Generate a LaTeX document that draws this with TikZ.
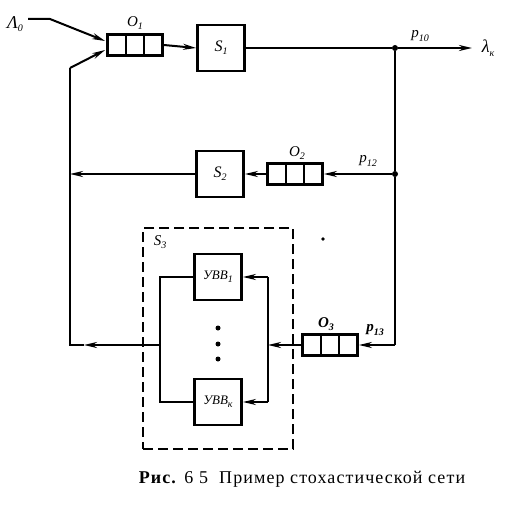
\documentclass[tikz,border=0pt]{standalone}
\usepackage{fontspec}
\setmainfont{Liberation Serif}
\usetikzlibrary{arrows.meta,calc}
\newcommand{\lsb}[1]{\raisebox{-0.45ex}{\fontsize{10}{10}\selectfont #1}}
\begin{document}
\begin{tikzpicture}[x=1pt,y=-1pt,
  ln/.style={line width=2pt},
  arr/.style={ln,-{Stealth[length=13pt,width=6pt]}},
  blk/.style={draw,line width=2.8pt,minimum width=47pt,minimum height=46pt,inner sep=0pt,font=\itshape\fontsize{16}{16}\selectfont},
  ublk/.style={blk,font=\itshape\fontsize{13}{13}\selectfont},
  queue/.style={draw,line width=2.8pt,minimum width=55pt,minimum height=21pt,inner sep=0pt,
    path picture={\draw[line width=2.4pt]
      ($(path picture bounding box.south west)!1/3!(path picture bounding box.south east)$) --
      ($(path picture bounding box.north west)!1/3!(path picture bounding box.north east)$)
      ($(path picture bounding box.south west)!2/3!(path picture bounding box.south east)$) --
      ($(path picture bounding box.north west)!2/3!(path picture bounding box.north east)$);}},
  lbl/.style={font=\itshape\fontsize{15}{15}\selectfont,inner sep=0pt},
  big/.style={font=\itshape\fontsize{18}{18}\selectfont,inner sep=0pt},
  jdot/.style={circle,fill,inner sep=0pt,minimum size=6pt}]
\useasboundingbox (0,0) rectangle (505,511);
% top row
\node[big] (L0) at (15,24) {Λ\lsb{0}};
\coordinate (a0s) at (28,19);
\coordinate (a0b) at (50,19);
\node[queue] (q1) at (135,45) {};
\node[lbl] (o1) at (135,23) {O\lsb{1}};
\node[blk] (s1) at (221,48) {S\lsb{1}};
\node[jdot] (j1) at (395,48) {};
\coordinate (kout) at (472,48);
\node[big] (lk) at (488,48) {λ\lsb{к}};
\node[lbl] (p10) at (420,36) {p\lsb{10}};
\draw[arr] (a0s) -- (a0b) -- ($(q1.west)+(-1,-4)$);
\draw[arr] (q1.east) -- (s1.west);
\draw[ln] (s1.east) -- (j1);
\draw[arr] (j1) -- (kout);
% second row
\node[jdot] (j2) at (395,174) {};
\node[queue] (q2) at (295,174) {};
\node[lbl] (o2) at (297,153) {O\lsb{2}};
\node[lbl] (p12) at (368,161) {p\lsb{12}};
\node[blk] (s2) at (220,174) {S\lsb{2}};
\coordinate (lv2) at (70,174);
\draw[arr] (j2) -- (q2.east);
\draw[arr] (q2.west) -- (s2.east);
\draw[arr] (s2.west) -- (lv2);
% right vertical and third queue
\node[queue] (q3) at (330,345) {};
\node[lbl] (o3) at (326,324) {\bfseries O\lsb{3}};
\node[lbl] (p13) at (375,330) {\bfseries p\lsb{13}};
\coordinate (rc) at (395,345);
\draw[ln] (j1) -- (j2) -- (rc);
\draw[arr] (rc) -- (q3.east);
% S3 group
\node[draw,line width=1.6pt,dash pattern=on 10pt off 5pt,minimum width=150pt,minimum height=221pt,inner sep=0pt] (s3) at (218,338.5) {};
\node[lbl] (s3l) at (160,242) {S\lsb{3}};
\node[ublk] (u1) at (218,277) {УВВ\lsb{1}};
\node[ublk] (uk) at (218,402) {УВВ\lsb{к}};
\coordinate (rt) at (268,277);
\coordinate (rb) at (268,402);
\coordinate (rm) at (268,345);
\coordinate (lt) at (160,277);
\coordinate (lb) at (160,402);
\coordinate (lm) at (160,345);
\draw[arr] (q3.west) -- (rm);
\draw[ln] (rt) -- (rb);
\draw[arr] (rt) -- (u1.east);
\draw[arr] (rb) -- (uk.east);
\draw[ln] (u1.west) -- (lt) -- (lb) -- (uk.west);
\fill (218,328) circle (2.5pt);
\fill (218,344) circle (2.5pt);
\fill (218,359) circle (2.5pt);
% feedback to left
\coordinate (lmid) at (84,345);
\coordinate (lcorner) at (70,345);
\coordinate (lup) at (70,68);
\draw[arr] (lm) -- (lmid);
\draw[ln] (lmid) -- (lcorner) -- (lup);
\draw[arr] (lup) -- ($(q1.west)+(-1,5)$);
\fill (323,239) circle (1.8pt);
% caption
\node[font=\fontsize{18}{18}\selectfont\addfontfeatures{LetterSpace=6},inner sep=0pt] (cap) at (302,479) {\textbf{Рис.} 6 5\ \ Пример стохастической сети};
\end{tikzpicture}
\end{document}
